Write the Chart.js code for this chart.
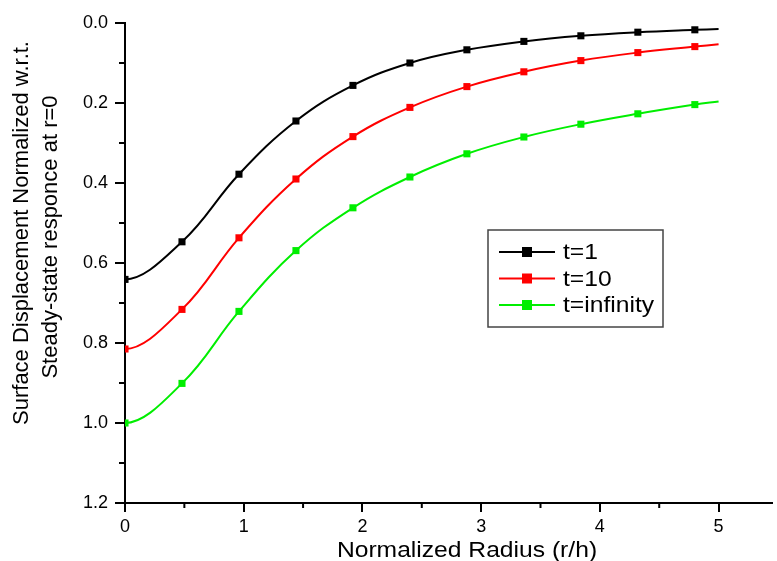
<!DOCTYPE html>
<html>
<head>
<meta charset="utf-8">
<script src="https://cdn.jsdelivr.net/npm/chart.js@4.4.1/dist/chart.umd.min.js"></script>
<style>
  html, body { margin: 0; padding: 0; background: #fff; }
  #chart { display: block; }
</style>
</head>
<body>
<canvas id="chart" width="777" height="561"></canvas>
<script>
const radius = [0, 0.48, 0.96, 1.44, 1.92, 2.4, 2.88, 3.36, 3.84, 4.32, 4.8, 5.0];
const t1 = [0.641, 0.547, 0.378, 0.245, 0.156, 0.100, 0.067, 0.046, 0.032, 0.023, 0.017, 0.015];
const t10 = [0.815, 0.716, 0.537, 0.390, 0.284, 0.211, 0.159, 0.122, 0.094, 0.074, 0.059, 0.053];
const tInf = [1.000, 0.901, 0.721, 0.569, 0.462, 0.385, 0.327, 0.285, 0.253, 0.227, 0.204, 0.196];
const seriesNames = ['t=1', 't=10', 't=infinity'];
const xTitle = 'Normalized Radius (r/h)';
const yTitle = ['Surface Displacement Normalized w.r.t.', 'Steady-state responce at r=0'];
const xTicks = [0, 1, 2, 3, 4, 5];
const minorX = [0.5, 1.5, 2.5, 3.5, 4.5];
const minorY = [0.1, 0.3, 0.5, 0.7, 0.9, 1.1];

const FONT = "'Liberation Sans', Arial, sans-serif";

function makeSet(label, values, color) {
  return {
    label: label,
    data: radius.map((r, i) => ({ x: r, y: values[i] })),
    borderColor: color,
    backgroundColor: color,
    borderWidth: 2,
    pointStyle: 'rect',
    pointRadius: ctx => (ctx.dataIndex < radius.length - 1 ? 5 : 0),
    pointBorderWidth: 0,
    tension: 0.4,
    fill: false
  };
}

// curves are symmetric about r=0, so start them with a flat tangent
const flatStart = {
  id: 'flatStart',
  beforeDatasetDraw(chart, args) {
    const meta = args.meta;
    meta.dataset.updateControlPoints(chart.chartArea, meta.indexAxis);
    const p0 = meta.data[0], p1 = meta.data[1];
    p0.cp2x = p0.x + (p1.x - p0.x) / 3;
    p0.cp2y = p0.y;
  }
};

// minor ticks, axis titles and the boxed legend inside the plot
const extras = {
  id: 'extras',
  afterDraw(chart) {
    const c = chart.ctx;
    const xs = chart.scales.x, ys = chart.scales.y;
    const area = chart.chartArea;
    c.save();
    c.strokeStyle = '#000';
    c.lineWidth = 2;
    c.beginPath();
    minorX.forEach(v => {
      const px = xs.getPixelForValue(v);
      c.moveTo(px, area.bottom);
      c.lineTo(px, area.bottom + 5);
    });
    minorY.forEach(v => {
      const py = ys.getPixelForValue(v);
      c.moveTo(area.left, py);
      c.lineTo(area.left - 6, py);
    });
    c.stroke();

    c.fillStyle = '#000';
    c.font = '22px ' + FONT;
    c.textAlign = 'center';
    c.textBaseline = 'alphabetic';
    // x title (text in the reference is a bit wider than Arial)
    c.save();
    c.translate(467, 557);
    c.scale(1.12, 1);
    c.fillText(xTitle, 0, 0);
    c.restore();
    // y title, two rotated lines
    [[28, 233], [57, 237]].forEach((p, i) => {
      c.save();
      c.translate(p[0], p[1]);
      c.rotate(-Math.PI / 2);
      c.fillText(yTitle[i], 0, 0);
      c.restore();
    });

    // legend
    const lx = area.left + 363, ly = area.top + 207;
    c.strokeStyle = '#444';
    c.lineWidth = 1.5;
    c.strokeRect(lx, ly, 175, 97);
    c.textAlign = 'left';
    c.textBaseline = 'middle';
    chart.data.datasets.forEach((ds, i) => {
      const cy = ly + 22 + i * 26.5;
      c.strokeStyle = ds.borderColor;
      c.lineWidth = 2;
      c.beginPath();
      c.moveTo(lx + 11, cy);
      c.lineTo(lx + 67, cy);
      c.stroke();
      c.fillStyle = ds.borderColor;
      c.fillRect(lx + 39 - 5, cy - 5, 10, 10);
      c.fillStyle = '#000';
      c.save();
      c.translate(lx + 75, cy + 1);
      c.scale(1.12, 1);
      c.fillText(ds.label, 0, 0);
      c.restore();
    });
    c.restore();
  }
};

new Chart(document.getElementById('chart'), {
  type: 'line',
  data: {
    datasets: [
      makeSet(seriesNames[0], t1, '#000000'),
      makeSet(seriesNames[1], t10, '#ff0000'),
      makeSet(seriesNames[2], tInf, '#00ee00')
    ]
  },
  options: {
    responsive: false,
    animation: false,
    devicePixelRatio: 1,
    layout: { padding: { top: 23, right: 0, bottom: 0, left: 0 } },
    plugins: {
      legend: { display: false },
      tooltip: { enabled: false }
    },
    scales: {
      x: {
        type: 'linear',
        min: 0,
        max: 5.45,
        afterBuildTicks: s => { s.ticks = xTicks.map(v => ({ value: v })); },
        afterFit: s => { s.height = 58; },
        ticks: {
          color: '#000',
          font: { family: FONT, size: 18 },
          padding: 4,
          maxRotation: 0
        },
        grid: { drawOnChartArea: false, color: '#000', lineWidth: 2, tickLength: 9 },
        border: { display: true, color: '#000', width: 2 }
      },
      y: {
        reverse: true,
        min: 0,
        max: 1.2,
        afterFit: s => { s.width = 125; },
        ticks: {
          stepSize: 0.2,
          color: '#000',
          font: { family: FONT, size: 18 },
          padding: 7,
          callback: v => v.toFixed(1)
        },
        grid: { drawOnChartArea: false, color: '#000', lineWidth: 2, tickLength: 10 },
        border: { display: true, color: '#000', width: 2 }
      }
    }
  },
  plugins: [flatStart, extras]
});
</script>
</body>
</html>
